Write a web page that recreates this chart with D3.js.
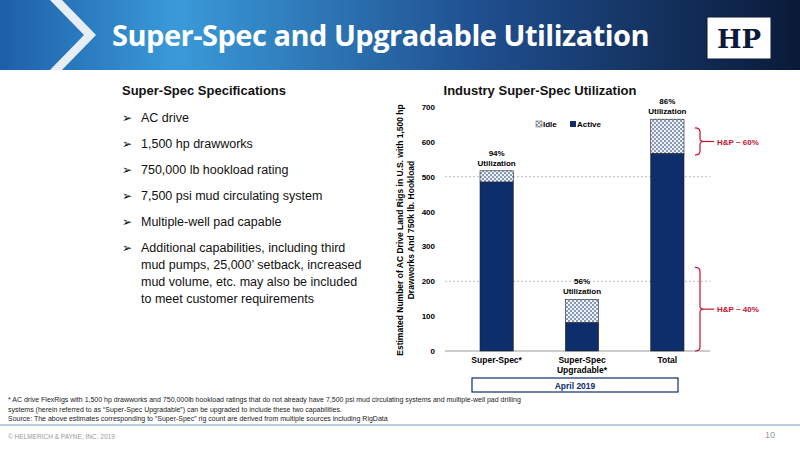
<!DOCTYPE html>
<html><head><meta charset="utf-8">
<script src="https://cdn.jsdelivr.net/npm/d3@7"></script>
<style>
body{margin:0;background:#fff;font-family:"Liberation Sans",Arial,sans-serif;}
svg{display:block}
</style></head><body>
<svg id="chart" width="800" height="450"></svg>
<script>
// 数据
const categories = ['Super-Spec*', 'Super-Spec Upgradable*', 'Total'];
const activeValues = [485, 82, 567];
const idleValues = [32, 66, 98];
const utilLabels = ['94%', '56%', '86%'];
const yTicks = [0, 100, 200, 300, 400, 500, 600, 700];
const specItems = [
    ['AC drive'],
    ['1,500 hp drawworks'],
    ['750,000 lb hookload rating'],
    ['7,500 psi mud circulating system'],
    ['Multiple-well pad capable'],
    ['Additional capabilities, including third', 'mud pumps, 25,000\u2019 setback, increased', 'mud volume, etc. may also be included', 'to meet customer requirements']
];

const svg = d3.select('#chart');
const defs = svg.append('defs');

// 标题栏渐变
const grad = defs.append('linearGradient').attr('id', 'hdr');
grad.append('stop').attr('offset', '0%').attr('stop-color', '#1d5fa8');
grad.append('stop').attr('offset', '22%').attr('stop-color', '#3a9ad9');
grad.append('stop').attr('offset', '60%').attr('stop-color', '#1f4f8f');
grad.append('stop').attr('offset', '100%').attr('stop-color', '#0a1a38');
svg.append('rect').attr('width', 800).attr('height', 70).attr('fill', 'url(#hdr)');
svg.append('path').attr('d', 'M50,0 L62,0 L96,35 L62,70 L50,70 L84,35 Z').attr('fill', '#e8eef5');
svg.append('text').attr('x', 112).attr('y', 46).attr('fill', '#fff')
    .attr('font-family', '"Open Sans",sans-serif').attr('font-weight', 700).attr('font-size', 29)
    .attr('letter-spacing', -0.5).text('Super-Spec and Upgradable Utilization');
// logo
const logo = svg.append('g').attr('transform', 'translate(707,17)');
logo.append('rect').attr('width', 64).attr('height', 42).attr('fill', '#fff').attr('stroke', '#0a1a38');
logo.append('text').attr('x', 32).attr('y', 31).attr('text-anchor', 'middle').attr('font-family', '"DejaVu Serif",serif')
    .attr('font-weight', 700).attr('font-size', 26).attr('fill', '#0a1a38').text('HP');

// 左侧规格列表
svg.append('text').attr('x', 122).attr('y', 95).attr('font-weight', 700).attr('font-size', 13)
    .attr('fill', '#111').text('Super-Spec Specifications');
let ly = 122;
specItems.forEach(lines => {
    svg.append('text').attr('x', 122).attr('y', ly).attr('font-size', 12).attr('font-family', '"DejaVu Sans",sans-serif').attr('fill', '#111').text('\u27a2');
    lines.forEach((t, i) => {
        svg.append('text').attr('x', 141).attr('y', ly + i * 17).attr('font-size', 12.5).attr('fill', '#111').text(t);
    });
    ly += 26;
});

// 图表
const x0 = 445, x1 = 710;
const y = d3.scaleLinear().domain([0, 700]).range([351, 107]);
const x = d3.scaleBand().domain(categories).range([480, 684]).paddingInner(0.61).paddingOuter(0);

// 点阵图案
const pat = defs.append('pattern').attr('id', 'dots').attr('width', 4).attr('height', 4).attr('patternUnits', 'userSpaceOnUse');
pat.append('rect').attr('width', 4).attr('height', 4).attr('fill', '#eef1f7');
pat.append('rect').attr('width', 2).attr('height', 2).attr('fill', '#8a99b8');
pat.append('rect').attr('x', 2).attr('y', 2).attr('width', 2).attr('height', 2).attr('fill', '#8a99b8');

svg.append('text').attr('x', 540).attr('y', 95).attr('text-anchor', 'middle').attr('font-weight', 700)
    .attr('font-size', 13).attr('fill', '#111').text('Industry Super-Spec Utilization');

// 网格线
svg.append('g').selectAll('line').data([200, 500]).join('line')
    .attr('x1', x0).attr('x2', x1).attr('y1', d => y(d)).attr('y2', d => y(d))
    .attr('stroke', '#bbb').attr('stroke-dasharray', '2,2');

const yAxis = svg.append('g').attr('transform', `translate(${x0},0)`)
    .call(d3.axisLeft(y).tickValues(yTicks).tickSize(0).tickPadding(10));
yAxis.select('.domain').remove();
yAxis.selectAll('text').attr('font-size', 8).attr('font-weight', 700).attr('font-family', '"Liberation Sans",Arial');

svg.append('line').attr('x1', x0).attr('x2', x1).attr('y1', y(0)).attr('y2', y(0)).attr('stroke', '#999');

// 条形
const bars = svg.append('g');
bars.selectAll('.act').data(categories).join('rect')
    .attr('x', d => x(d)).attr('width', x.bandwidth())
    .attr('y', (d, i) => y(activeValues[i])).attr('height', (d, i) => y(0) - y(activeValues[i]))
    .attr('fill', '#0d2d6b').attr('stroke', '#222').attr('stroke-width', 0.6);
bars.selectAll('.idle').data(categories).join('rect')
    .attr('x', d => x(d)).attr('width', x.bandwidth())
    .attr('y', (d, i) => y(activeValues[i] + idleValues[i]))
    .attr('height', (d, i) => y(activeValues[i]) - y(activeValues[i] + idleValues[i]))
    .attr('fill', 'url(#dots)').attr('stroke', '#222').attr('stroke-width', 0.6);

categories.forEach((c, i) => {
    const cx = x(c) + x.bandwidth() / 2, top = y(activeValues[i] + idleValues[i]);
    svg.append('text').attr('x', cx).attr('y', top - 15).attr('text-anchor', 'middle').attr('font-size', 8).attr('font-weight', 700).text(utilLabels[i]);
    svg.append('text').attr('x', cx).attr('y', top - 5).attr('text-anchor', 'middle').attr('font-size', 8).attr('font-weight', 700).text('Utilization');
});

// x 轴标签
const xLabels = [['Super-Spec*'], ['Super-Spec', 'Upgradable*'], ['Total']];
categories.forEach((c, i) => {
    xLabels[i].forEach((t, j) => {
        svg.append('text').attr('x', x(c) + x.bandwidth() / 2).attr('y', 363 + j * 10).attr('text-anchor', 'middle')
            .attr('font-size', 8.5).attr('font-weight', 700).text(t);
    });
});

// 图例
svg.append('rect').attr('x', 536).attr('y', 121).attr('width', 6).attr('height', 6).attr('fill', 'url(#dots)').attr('stroke', '#555').attr('stroke-width', 0.5);
svg.append('text').attr('x', 543).attr('y', 127).attr('font-size', 8).attr('font-weight', 700).text('Idle');
svg.append('rect').attr('x', 570).attr('y', 121).attr('width', 6).attr('height', 6).attr('fill', '#0d2d6b');
svg.append('text').attr('x', 577).attr('y', 127).attr('font-size', 8).attr('font-weight', 700).text('Active');

// y 轴标题
const yt = svg.append('text').attr('transform', 'translate(403,230) rotate(-90)').attr('text-anchor', 'middle')
    .attr('font-size', 8.5).attr('font-weight', 700);
yt.append('tspan').attr('x', 0).attr('dy', 0).text('Estimated Number of AC Drive Land Rigs in U.S. with 1,500 hp');
yt.append('tspan').attr('x', 0).attr('dy', 11).text('Drawworks And 750k lb. Hookload');

// H&P 括号
const red = '#c8102e';
function brace(yTop, yBot, label) {
    const xb = 695, mid = (yTop + yBot) / 2;
    svg.append('path').attr('fill', 'none').attr('stroke', red).attr('stroke-width', 1.2)
        .attr('d', `M${xb},${yTop} Q${xb + 5},${yTop} ${xb + 5},${yTop + 4} L${xb + 5},${mid - 3} Q${xb + 5},${mid} ${xb + 9},${mid} Q${xb + 5},${mid} ${xb + 5},${mid + 3} L${xb + 5},${yBot - 4} Q${xb + 5},${yBot} ${xb},${yBot}`);
    svg.append('line').attr('x1', xb + 9).attr('x2', xb + 19).attr('y1', mid).attr('y2', mid).attr('stroke', red).attr('stroke-width', 1.2);
    svg.append('text').attr('x', xb + 22).attr('y', mid + 3).attr('font-size', 8).attr('font-weight', 700).attr('fill', red).text(label);
}
brace(y(640), y(562), 'H&P ~ 60%');
brace(y(240), y(0), 'H&P ~ 40%');

// April 2019 框
svg.append('rect').attr('x', 472).attr('y', 378).attr('width', 206).attr('height', 14).attr('fill', '#fff').attr('stroke', '#0d2d6b').attr('stroke-width', 1.2);
svg.append('text').attr('x', 575).attr('y', 388.5).attr('text-anchor', 'middle').attr('font-size', 8.5).attr('font-weight', 700).attr('fill', '#0d2d6b').text('April 2019');

// 脚注
const foot = ['* AC drive FlexRigs with 1,500 hp drawworks and 750,000lb hookload ratings that do not already have 7,500 psi mud circulating systems and multiple-well pad drilling',
    'systems (herein referred to as \u201cSuper-Spec Upgradable\u201d) can be upgraded to include these two capabilities.',
    'Source:  The above estimates corresponding to \u201cSuper-Spec\u201d rig count are derived from multiple sources including RigData'];
foot.forEach((t, i) => svg.append('text').attr('x', 8).attr('y', 402 + i * 9.5).attr('font-size', 7).attr('fill', '#222').text(t));
svg.append('line').attr('x1', 0).attr('x2', 800).attr('y1', 425).attr('y2', 425).attr('stroke', '#5a7fb8').attr('stroke-width', 0.8);
svg.append('text').attr('x', 8).attr('y', 439).attr('font-size', 6.5).attr('fill', '#999').text('\u00a9 HELMERICH & PAYNE, INC. 2019');
svg.append('text').attr('x', 775).attr('y', 438).attr('text-anchor', 'end').attr('font-size', 9).attr('fill', '#999').text('10');
</script>
</body></html>
